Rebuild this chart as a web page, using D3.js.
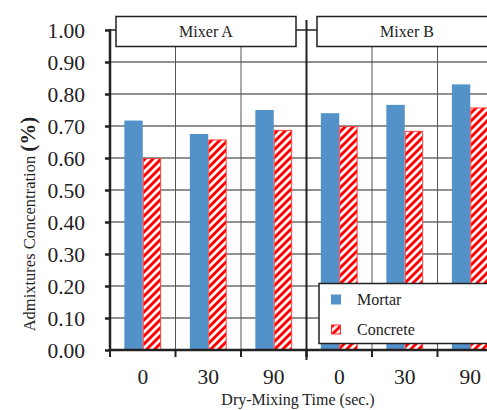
<!DOCTYPE html>
<html>
<head>
<meta charset="utf-8">
<script src="https://cdn.jsdelivr.net/npm/d3@7"></script>
<style>
  body { margin: 0; background: #fff; }
  svg text { font-family: "Liberation Serif", "DejaVu Serif", "Times New Roman", Times, serif !important; fill: #222; }
</style>
</head>
<body>
<svg width="487" height="410"></svg>
<script>
const mixers = ["Mixer A", "Mixer B"];
const times = ["0", "30", "90"];
const series = ["Mortar", "Concrete"];
const mortar = [0.717, 0.675, 0.75, 0.74, 0.766, 0.83];
const concrete = [0.60, 0.658, 0.688, 0.70, 0.685, 0.758];
const yTicks = [0, 0.1, 0.2, 0.3, 0.4, 0.5, 0.6, 0.7, 0.8, 0.9, 1.0];

const svg = d3.select("svg");
const margin = {left: 110, top: 30, bottom: 60};
const panelW = 196.5;
const plotBottom = 350;

const defs = svg.append("defs");
const pat = defs.append("pattern")
  .attr("id", "hatch")
  .attr("patternUnits", "userSpaceOnUse")
  .attr("width", 8).attr("height", 8);
pat.append("rect").attr("width", 8).attr("height", 8).attr("fill", "#fff");
pat.append("path")
  .attr("d", "M-2,2 l4,-4 M0,8 l8,-8 M6,10 l4,-4")
  .attr("stroke", "#ff0000").attr("stroke-width", 3);

const y = d3.scaleLinear().domain([0, 1]).range([plotBottom, margin.top]);

const panel = d3.scaleBand().domain(mixers)
  .range([margin.left, margin.left + panelW * 2]);
const x = d3.scaleBand().domain(times).range([0, panelW]);
const xs = d3.scaleBand().domain(series).range([0, x.bandwidth()]).paddingInner(0).paddingOuter(0.78);

const rows = [];
mixers.forEach((m, mi) => times.forEach((t, ti) => {
  rows.push({mixer: m, time: t, Mortar: mortar[mi * 3 + ti], Concrete: concrete[mi * 3 + ti]});
}));

// horizontal gridlines
svg.append("g").selectAll("line")
  .data(yTicks.filter(d => d > 0 && d < 1))
  .enter().append("line")
  .attr("x1", margin.left).attr("x2", margin.left + panelW * 2)
  .attr("y1", d => y(d)).attr("y2", d => y(d))
  .attr("stroke", "#222").attr("stroke-width", 1);

// vertical gridlines inside panels
mixers.forEach(m => {
  times.slice(1).forEach(t => {
    svg.append("line")
      .attr("x1", panel(m) + x(t)).attr("x2", panel(m) + x(t))
      .attr("y1", 47).attr("y2", plotBottom)
      .attr("stroke", "#555").attr("stroke-width", 1);
  });
});

// bars
const barG = svg.append("g");
rows.forEach(r => {
  const x0 = panel(r.mixer) + x(r.time);
  barG.append("rect")
    .attr("x", x0 + xs("Mortar")).attr("width", xs.bandwidth())
    .attr("y", y(r.Mortar)).attr("height", plotBottom - y(r.Mortar))
    .attr("fill", "#5391c9");
  barG.append("rect")
    .attr("x", x0 + xs("Concrete") + 0.5).attr("width", xs.bandwidth() - 1)
    .attr("y", y(r.Concrete) + 0.5).attr("height", plotBottom - y(r.Concrete) - 0.5)
    .attr("fill", "url(#hatch)")
    .attr("stroke", "#ff4040").attr("stroke-width", 1);
});

// panel header boxes
const boxOffset = {"Mixer A": 6, "Mixer B": 10.5};
mixers.forEach(m => {
  const bx = panel(m) + boxOffset[m];
  svg.append("rect")
    .attr("x", bx).attr("y", 16.5)
    .attr("width", 180).attr("height", 30)
    .attr("fill", "#fff").attr("stroke", "#222").attr("stroke-width", 1.5);
  svg.append("text")
    .attr("x", bx + 90).attr("y", 37)
    .attr("text-anchor", "middle").attr("font-size", 16)
    .text(m);
});
// connector between header boxes
svg.append("line")
  .attr("x1", panel("Mixer A") + 186).attr("x2", panel("Mixer B") + 10.5)
  .attr("y1", y(1)).attr("y2", y(1))
  .attr("stroke", "#222").attr("stroke-width", 1.5);

// separator between panels
svg.append("line")
  .attr("x1", panel("Mixer B")).attr("x2", panel("Mixer B"))
  .attr("y1", 20).attr("y2", plotBottom + 10)
  .attr("stroke", "#222").attr("stroke-width", 2);

// y axis
const yAxis = d3.axisLeft(y).tickValues(yTicks).tickFormat(d3.format(".2f"))
  .tickSize(5).tickPadding(20);
const yg = svg.append("g").attr("transform", `translate(${margin.left},0)`).call(yAxis);
yg.attr("font-family", null);
yg.select(".domain").attr("stroke", "#222").attr("stroke-width", 2.5)
  .attr("d", `M0,${y(1) - 1}V${plotBottom}`);
yg.selectAll(".tick line").attr("stroke", "#222").attr("stroke-width", 2.5);
yg.selectAll(".tick text").attr("font-size", 21.5).attr("fill", "#222").attr("dy", "0.34em");
// extra tick at top joining header box
svg.append("line").attr("x1", margin.left).attr("x2", margin.left + 6)
  .attr("y1", y(1)).attr("y2", y(1)).attr("stroke", "#222").attr("stroke-width", 1.5);

// x axis
svg.append("line")
  .attr("x1", margin.left).attr("x2", margin.left + panelW * 2)
  .attr("y1", plotBottom).attr("y2", plotBottom)
  .attr("stroke", "#222").attr("stroke-width", 2.5);
mixers.forEach(m => {
  times.concat(["end"]).forEach((t, i) => {
    const tx = panel(m) + i * x.step();
    svg.append("line")
      .attr("x1", tx).attr("x2", tx)
      .attr("y1", plotBottom).attr("y2", plotBottom + 7)
      .attr("stroke", "#222").attr("stroke-width", 2);
  });
  times.forEach(t => {
    svg.append("text")
      .attr("x", panel(m) + x(t) + x.bandwidth() / 2)
      .attr("y", 383.5)
      .attr("text-anchor", "middle").attr("font-size", 21.5)
      .text(t);
  });
});

// axis titles
svg.append("text")
  .attr("x", 298).attr("y", 404.5)
  .attr("text-anchor", "middle").attr("font-size", 16)
  .text("Dry-Mixing Time (sec.)");

const yt = svg.append("text")
  .attr("transform", "translate(35,224) rotate(-90)")
  .attr("text-anchor", "middle").attr("font-size", 16.5);
yt.append("tspan").text("Admixtures Concentration ");
yt.append("tspan").attr("font-size", 21).attr("font-weight", "bold").text("(%)");

// legend
const lg = svg.append("g").attr("transform", "translate(319,283.5)");
lg.append("rect").attr("width", 200).attr("height", 60)
  .attr("fill", "#fff").attr("stroke", "#222").attr("stroke-width", 1.5);
lg.append("rect").attr("x", 12).attr("y", 11).attr("width", 10).attr("height", 10)
  .attr("fill", "#5391c9");
lg.append("rect").attr("x", 12.5).attr("y", 41.5).attr("width", 9).attr("height", 9)
  .attr("fill", "url(#hatch)").attr("stroke", "#ff3030");
lg.append("text").attr("x", 38).attr("y", 21.5).attr("font-size", 16).text(series[0]);
lg.append("text").attr("x", 38).attr("y", 51.5).attr("font-size", 16).text(series[1]);
</script>
</body>
</html>
